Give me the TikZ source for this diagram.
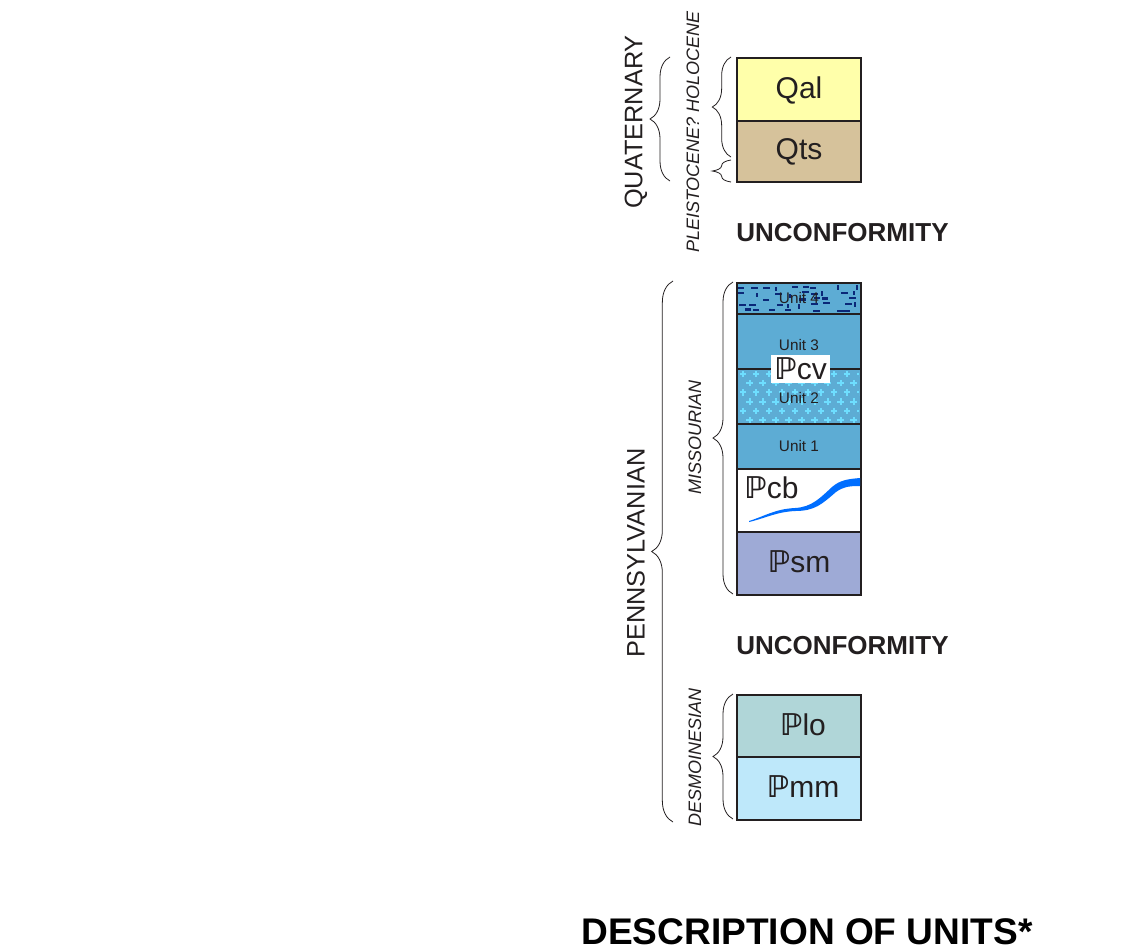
\documentclass[tikz,border=0pt]{standalone}
\usepackage{fontspec}
\setmainfont{Liberation Sans}
\newfontfamily\dvs{DejaVu Sans}
\usetikzlibrary{decorations.pathreplacing}
\definecolor{ink}{RGB}{35,31,32}
\definecolor{qalc}{RGB}{255,255,170}
\definecolor{qtsc}{RGB}{214,194,155}
\definecolor{unitblue}{RGB}{93,172,212}
\definecolor{psmc}{RGB}{158,170,214}
\definecolor{ploc}{RGB}{176,214,216}
\definecolor{pmmc}{RGB}{190,232,250}
\definecolor{navydash}{RGB}{10,40,120}
\definecolor{pluscol}{RGB}{110,222,255}
\definecolor{linecol}{RGB}{0,110,255}
\newcommand{\PP}{{\dvs\bfseries ℙ}}
\begin{document}
\begin{tikzpicture}[x=0.75pt,y=-0.75pt,
  unitbox/.style={draw=ink,line width=1.5pt},
  biglbl/.style={font=\fontsize{22.5}{26}\selectfont,text=ink,inner sep=0pt},
  smalllbl/.style={font=\fontsize{11.5}{13}\selectfont,text=ink,inner sep=0pt},
  period/.style={font=\fontsize{19}{22}\selectfont,rotate=90,inner sep=0pt,text=ink},
  epoch/.style={font=\fontsize{13.5}{16}\selectfont\itshape,rotate=90,inner sep=0pt,text=ink},
  headlbl/.style={font=\fontsize{19.5}{23}\selectfont\bfseries,inner sep=0pt,text=ink,anchor=west},
  brc/.style={decorate,draw=ink,line width=0.6pt},
]
\useasboundingbox (0,0) rectangle (1130,951);

% ---------- Quaternary column ----------
\node[unitbox,fill=qalc,minimum width=93pt,minimum height=47.25pt,inner sep=0pt,anchor=north west] (qal) at (736,57) {};
\node[unitbox,fill=qtsc,minimum width=93pt,minimum height=45.75pt,inner sep=0pt,anchor=north west] (qts) at (736,120) {};
\node[biglbl] (qallbl) at (799,90) {Qal};
\node[biglbl] (qtslbl) at (799,152) {Qts};

\node[headlbl] (unc1) at (736,233) {UNCONFORMITY};

% ---------- Pcv ----------
\fill[unitblue] (736,282) rectangle (860,468);
\begin{scope}
\clip (737,283) rectangle (859,313);
\foreach \r in {0,...,4}{
  \foreach \c in {0,...,10}{
    \pgfmathsetmacro\xx{737+11.5*\c+9*rnd}
    \pgfmathsetmacro\yy{285+5.6*\r+3*rnd}
    \pgfmathsetmacro\oo{rnd}
    \ifdim\oo pt<0.55pt
      \fill[navydash] (\xx,\yy) rectangle ++(6.5,2.2);
    \else
      \ifdim\oo pt<0.8pt
        \fill[navydash] (\xx,\yy) rectangle ++(2.2,4.5);
      \fi
    \fi
  }
}
\end{scope}
\begin{scope}
\clip (737,369) rectangle (859,424);
\foreach \r in {0,...,5}{
  \pgfmathsetmacro\yy{374+9.2*\r}
  \pgfmathsetmacro\xo{743+6.5*mod(\r,2)}
  \foreach \c in {0,...,9}{
    \draw[pluscol,line width=1.5pt] (\xo+13*\c-3.2,\yy) -- ++(6.4,0) (\xo+13*\c,\yy-3.2) -- ++(0,6.4);
  }
}
\end{scope}
\draw[ink,line width=0.9pt] (736,314) -- (860,314) (736,369) -- (860,369) (736,424) -- (860,424);
\node[unitbox,minimum width=93pt,minimum height=139.5pt,inner sep=0pt,anchor=north west] (pcv) at (736,282) {};
\node[smalllbl] (u4) at (799,298) {Unit 4};
\node[smalllbl] (u3) at (799,345) {Unit 3};
\node[smalllbl] (u2) at (799,398) {Unit 2};
\node[smalllbl] (u1) at (799,446) {Unit 1};
\node[fill=white,inner sep=0pt,minimum width=44pt,minimum height=21pt] (pcvbox) at (800.5,369) {};
\node[biglbl] (pcvlbl) at (800.5,369) {\PP cv};

% ---------- Pcb ----------
\node[unitbox,fill=white,minimum width=93pt,minimum height=47.25pt,inner sep=0pt,anchor=north west] (pcb) at (736,468) {};
\fill[linecol] (749,521) .. controls (765,516) and (775,509) .. (795,508)
   .. controls (812,507) and (820,498) .. (832,487)
   .. controls (840,480) and (848,479) .. (860,478)
   -- (860,486) .. controls (848,486) and (843,487) .. (836,492)
   .. controls (822,504) and (815,511) .. (795,511)
   .. controls (776,512) and (766,518) .. (749,522) -- cycle;
\node[biglbl,anchor=west] (pcblbl) at (744,488) {\PP cb};

% ---------- Psm ----------
\node[unitbox,fill=psmc,minimum width=93pt,minimum height=47.25pt,inner sep=0pt,anchor=north west] (psm) at (736,531) {};
\node[biglbl] (psmlbl) at (799,562) {\PP sm};

\node[headlbl] (unc2) at (736,646) {UNCONFORMITY};

% ---------- Desmoinesian ----------
\node[unitbox,fill=ploc,minimum width=93pt,minimum height=46.5pt,inner sep=0pt,anchor=north west] (plo) at (736,694) {};
\node[unitbox,fill=pmmc,minimum width=93pt,minimum height=47.25pt,inner sep=0pt,anchor=north west] (pmm) at (736,756) {};
\node[biglbl] (plolbl) at (803,725) {\PP lo};
\node[biglbl] (pmmlbl) at (803,787) {\PP mm};

% ---------- Braces ----------
\draw[brc,decoration={brace,amplitude=15pt}] (670,181) -- (670,57);
\draw[brc,decoration={brace,amplitude=14pt}] (731,157) -- (731,57);
\draw[brc,decoration={brace,amplitude=14pt,aspect=0.5}] (731,182) -- (731,160);
\draw[brc,decoration={brace,amplitude=16pt}] (673,822) -- (673,281);
\draw[brc,decoration={brace,amplitude=15pt}] (733,594) -- (733,282);
\draw[brc,decoration={brace,amplitude=15pt}] (733,819) -- (733,694);

% ---------- Period / epoch labels ----------
\node[period] (quat) at (636,122) {QUATERNARY};
\node[period] (penn) at (636,553) {PENNSYLVANIAN};
\node[epoch] (pleis) at (693,132) {PLEISTOCENE? HOLOCENE};
\node[epoch] (miss) at (695,437) {MISSOURIAN};
\node[epoch] (desm) at (695,757) {DESMOINESIAN};

% ---------- Title ----------
\node[font=\fontsize{27.8}{32}\selectfont\bfseries,inner sep=0pt,text=black,anchor=base] (title) at (807,944) {DESCRIPTION OF UNITS*};
\end{tikzpicture}
\end{document}
